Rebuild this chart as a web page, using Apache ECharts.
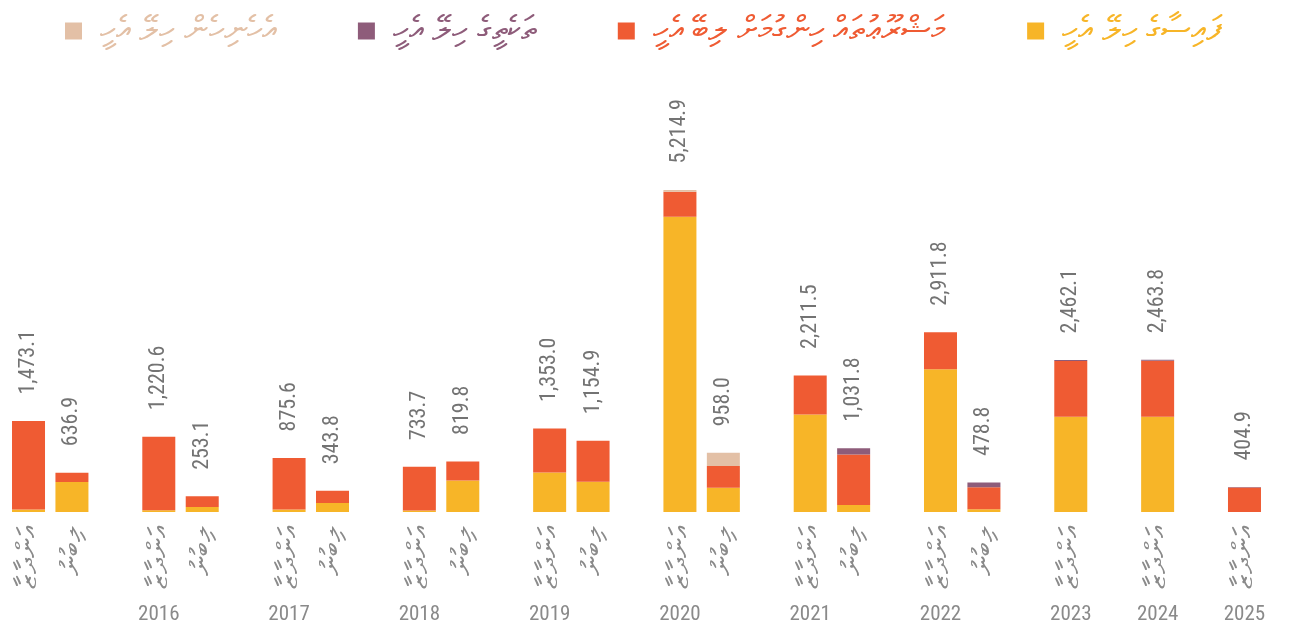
<!DOCTYPE html>
<html><head><meta charset="utf-8">
<script src="https://cdn.jsdelivr.net/npm/echarts@6/dist/echarts.min.js"></script>
<style>html,body{margin:0;padding:0;background:#fff}#c{width:1301px;height:640px}</style>
</head><body><div id="c"></div>
<script>
const years = ['2015','2016','2017','2018','2019','2020','2021','2022','2023','2024','2025'];
const barsPerYear = [2,2,2,2,2,2,2,2,1,1,1];
const kindLabels = ['އަންދާޒާ','ލިބުނު'];
const seriesNames = ['ފައިސާގެ ހިލޭ އެހީ','މަޝްރޫޢުތައް ހިންގުމަށް ލިބޭ އެހީ','ތަކެތީގެ ހިލޭ އެހީ','އެހެނިހެން ހިލޭ އެހީ'];
const cashGrant  = [40, 487, 30, 80, 40, 145, 25, 510, 638, 490, 4780, 393, 1580, 112, 2310, 45, 1542, 1544, 0];
const projectAid = [1433.1, 149.9, 1190.6, 173.1, 835.6, 198.8, 708.7, 309.8, 715, 664.9, 404.9, 350, 631.5, 819.8, 601.8, 353.8, 905.1, 904.8, 396.9];
const inKind     = [0,0,0,0,0,0,0,0,0,0,0,0,0,100,0,80,15,15,8];
const otherGrant = [0,0,0,0,0,0,0,0,0,0,30,215,0,0,0,0,0,0,0];
const totals     = [1473.1, 636.9, 1220.6, 253.1, 875.6, 343.8, 733.7, 819.8, 1353.0, 1154.9, 5214.9, 958.0, 2211.5, 1031.8, 2911.8, 478.8, 2462.1, 2463.8, 404.9];
const colors = ['#F7B528','#EF5B33','#8E5C7A','#E3C0A6'];

const slots = [];
let b = 0;
years.forEach((y, i) => {
  for (let k = 0; k < barsPerYear[i]; k++) slots.push({year: y, kind: k, bar: b++});
  if (i < years.length - 1) slots.push({gap: true});
});
const cats = slots.map((s, j) => String(j));
const pick = arr => slots.map(s => s.gap ? '-' : arr[s.bar]);

const chart = echarts.init(document.getElementById('c'), null, {renderer: 'canvas'});
const narrow = '"Roboto Condensed", "Liberation Sans Narrow", "Liberation Sans", sans-serif';

const barSeries = [cashGrant, projectAid, inKind, otherGrant].map((arr, i) => ({
  name: seriesNames[i], type: 'bar', stack: 'all', barWidth: 33,
  itemStyle: {color: colors[i]}, data: pick(arr), xAxisIndex: 0, yAxisIndex: 0
}));

chart.setOption({
  animation: false,
  color: colors,
  legend: {
    left: 60, top: 9, itemWidth: 17, itemHeight: 17, itemGap: 82, icon: 'rect',
    data: [3,2,1,0].map(i => ({name: seriesNames[i], textStyle: {color: colors[i]}})),
    textStyle: {fontSize: 34, fontFamily: 'sans-serif', padding: [0, 0, 0, 13]}
  },
  grid: {left: 6.8, right: 34.8, top: 141.5, bottom: 128},
  xAxis: [{
    type: 'category', data: cats, axisLine: {show: false}, axisTick: {show: false},
    axisLabel: {interval: 0, rotate: 90, margin: 14, color: '#8a8a8a', fontSize: 28,
      formatter: v => { const s = slots[+v]; return s.gap ? '' : kindLabels[s.kind]; }}
  }, {
    type: 'category', data: cats, position: 'bottom', offset: 92,
    axisLine: {show: false}, axisTick: {show: false},
    axisLabel: {interval: 0, margin: 0, color: '#8a8a8a', fontSize: 21, fontFamily: narrow,
      formatter: v => { const s = slots[+v]; return (!s.gap && s.kind === 0 && s.year !== '2015') ? s.year : ''; }}
  }],
  yAxis: {type: 'value', min: 0, max: 6000, show: false},
  series: barSeries.concat([{
    type: 'scatter', symbolSize: 1, itemStyle: {color: 'rgba(0,0,0,0)'}, data: pick(totals),
    label: {show: true, position: 'top', distance: 26, rotate: 90, align: 'left', verticalAlign: 'middle',
      color: '#505050', fontSize: 22, fontFamily: narrow,
      formatter: p => p.value.toLocaleString('en-US', {minimumFractionDigits: 1, maximumFractionDigits: 1})}
  }])
});
</script></body></html>
